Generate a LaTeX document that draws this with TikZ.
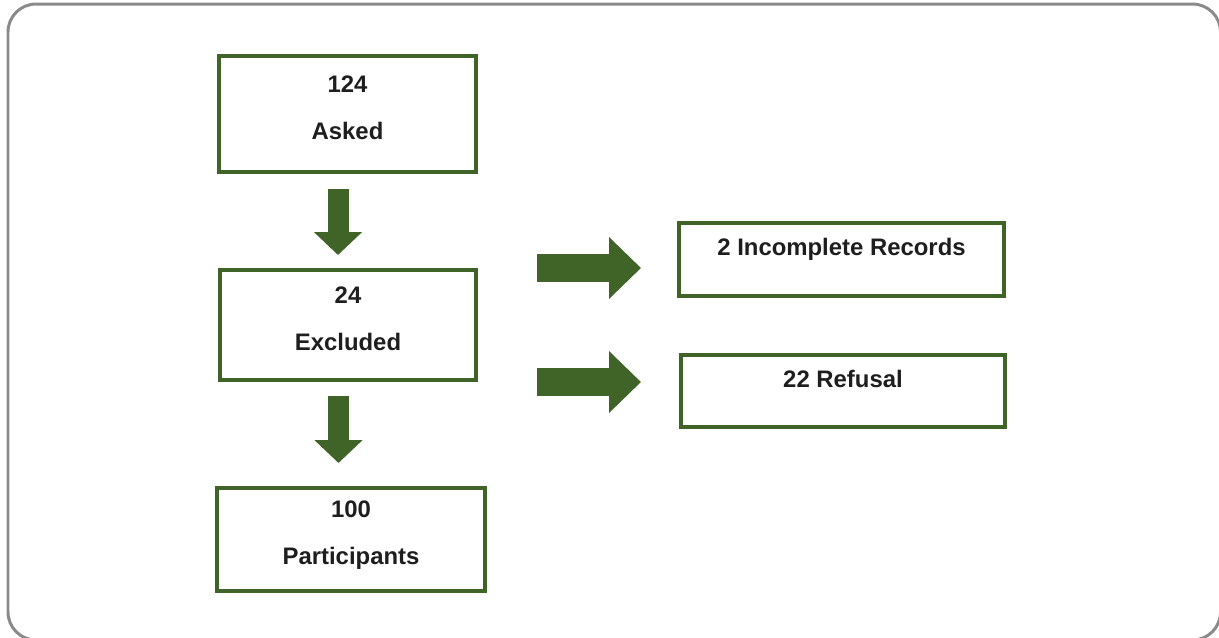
\documentclass[tikz,border=0pt]{standalone}
\usepackage{fontspec}
\setmainfont{Liberation Sans}
\usetikzlibrary{arrows.meta,positioning}
\definecolor{boxgreen}{RGB}{64,100,40}
\definecolor{framegray}{RGB}{138,138,138}
\definecolor{textdark}{RGB}{30,30,30}

\begin{document}
\begin{tikzpicture}[
  x=0.02cm, y=-0.02cm,
  stage/.style={draw=boxgreen, line width=2.3pt, fill=white, align=center, text=textdark,
    font=\fontsize{13.6}{26.6}\selectfont\bfseries},
  twoline/.style={stage, text height=1.4cm, text depth=0.4cm},
  oneline/.style={stage, text height=0.36cm, text depth=0.52cm},
  downarr/.style={boxgreen, line width=0.42cm, -{Triangle[length=0.46cm, width=0.94cm]}},
  sidearr/.style={boxgreen, line width=0.56cm, -{Triangle[length=0.64cm, width=1.2cm]}},
  frame/.style={draw=framegray, line width=1.7pt, rounded corners=0.56cm}
]
\clip (0,0) rectangle (1219,637);
\draw[frame] (8,4) rectangle (1220.5,640);
\node[twoline, minimum width=5.14cm, minimum height=2.32cm] (asked) at (347.5,114) {124\\Asked};
\node[twoline, minimum width=5.12cm, minimum height=2.2cm] (excl) at (348,325) {24\\Excluded};
\node[twoline, minimum width=5.36cm, minimum height=2.06cm] (part) at (351,539.5) {100\\Participants};
\node[oneline, minimum width=6.5cm, minimum height=1.46cm] (inc) at (841.5,259.5) {2 Incomplete Records};
\node[oneline, minimum width=6.48cm, minimum height=1.44cm] (ref) at (843,391) {22 Refusal};
\draw[downarr, shorten <=0.3cm, shorten >=0.26cm] ([xshift=-0.19cm]asked.south) -- ([xshift=-0.19cm]asked.south |- excl.north);
\draw[downarr, shorten <=0.28cm, shorten >=0.46cm] ([xshift=-0.19cm]excl.south) -- ([xshift=-0.19cm]excl.south |- part.north);
\draw[sidearr, shorten <=1.18cm, shorten >=0.72cm] (excl.north east) -- (excl.north east -| inc.west);
\draw[sidearr, shorten <=1.18cm, shorten >=0.76cm] (excl.south east) -- (excl.south east -| ref.west);
\end{tikzpicture}
\end{document}
